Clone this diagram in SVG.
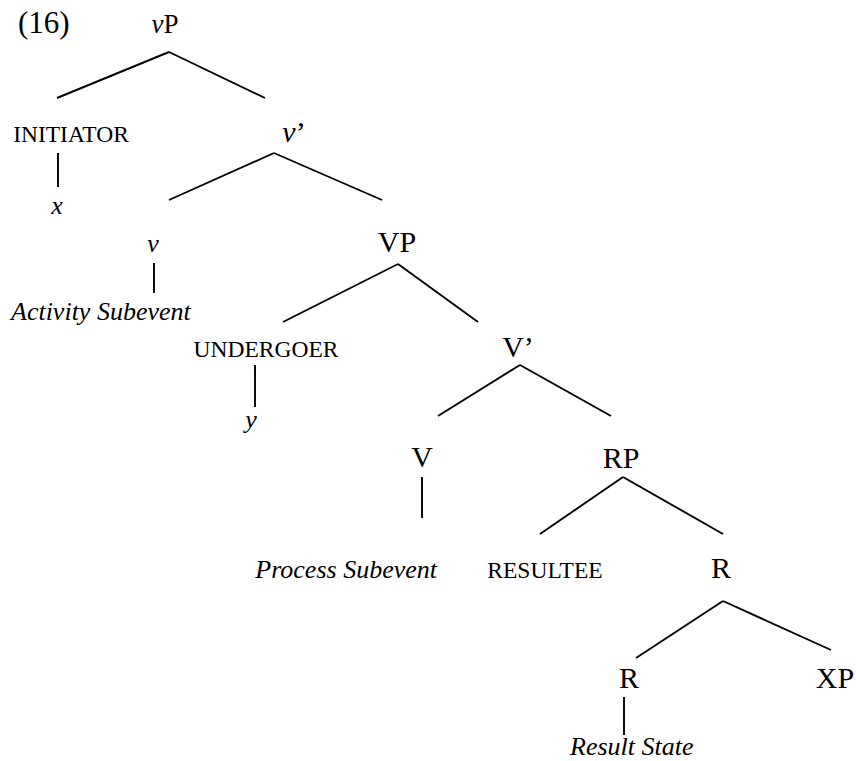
<svg xmlns="http://www.w3.org/2000/svg" width="856" height="761" viewBox="0 0 856 761">
  <style>
    text { font-family: "Liberation Serif", "Times New Roman", serif; fill: #000; }
    .cat { font-size: 30px; text-anchor: middle; }
    .role { font-size: 23.5px; text-anchor: middle; }
    .it { font-size: 26px; font-style: italic; }
    .mid { text-anchor: middle; }
    #edges line { stroke: #000; stroke-width: 1.9; stroke-linecap: butt; }
  </style>
  <rect width="856" height="761" fill="#fff"/>

  <text x="18" y="33" style="font-size:31px">(16)</text>

  <g id="edges">
    <!-- vP -->
    <line x1="169" y1="52" x2="57" y2="98"/>
    <line x1="169" y1="52" x2="265" y2="98"/>
    <!-- INITIATOR - x -->
    <line x1="58" y1="153" x2="58" y2="187"/>
    <!-- v' -->
    <line x1="274" y1="153" x2="169" y2="200"/>
    <line x1="274" y1="153" x2="382" y2="200"/>
    <!-- v - Activity Subevent -->
    <line x1="154" y1="263" x2="154" y2="293"/>
    <!-- VP -->
    <line x1="398" y1="264" x2="283" y2="322"/>
    <line x1="398" y1="264" x2="478" y2="322"/>
    <!-- UNDERGOER - y -->
    <line x1="255" y1="365" x2="255" y2="407"/>
    <!-- V' -->
    <line x1="520" y1="365" x2="438" y2="416"/>
    <line x1="520" y1="365" x2="611" y2="416"/>
    <!-- V -->
    <line x1="422" y1="477" x2="422" y2="518"/>
    <!-- RP -->
    <line x1="623" y1="477" x2="540" y2="534"/>
    <line x1="623" y1="477" x2="723" y2="534"/>
    <!-- R' -->
    <line x1="723" y1="601" x2="636" y2="658"/>
    <line x1="723" y1="601" x2="831" y2="650"/>
    <!-- R - Result State -->
    <line x1="624" y1="697" x2="624" y2="735"/>
  </g>

  <g id="vP"><text class="cat" x="165" y="33" style="font-size:27px"><tspan font-style="italic">v</tspan>P</text></g>
  <g id="initiator"><text class="role" x="71" y="142">INITIATOR</text></g>
  <g id="x"><text class="it mid" x="57" y="214">x</text></g>
  <g id="vbar"><text class="cat" x="294" y="142"><tspan font-style="italic">v</tspan>’</text></g>
  <g id="v"><text class="it mid" x="153" y="252">v</text></g>
  <g id="activity"><text class="it" x="11" y="320">Activity Subevent</text></g>
  <g id="VP"><text class="cat" x="397" y="252">VP</text></g>
  <g id="undergoer"><text class="role" x="266" y="357">UNDERGOER</text></g>
  <g id="y"><text class="it mid" x="251" y="428">y</text></g>
  <g id="Vbar"><text class="cat" x="518" y="357">V’</text></g>
  <g id="V"><text class="cat" x="422" y="467">V</text></g>
  <g id="process"><text class="it" x="437" y="578" text-anchor="end">Process Subevent</text></g>
  <g id="RP"><text class="cat" x="621" y="468">RP</text></g>
  <g id="resultee"><text class="role" x="545" y="578">RESULTEE</text></g>
  <g id="Rbar"><text class="cat" x="721" y="578">R</text></g>
  <g id="R"><text class="cat" x="629" y="688">R</text></g>
  <g id="XP"><text class="cat" x="835" y="688">XP</text></g>
  <g id="result"><text class="it" x="570" y="755">Result State</text></g>
</svg>
